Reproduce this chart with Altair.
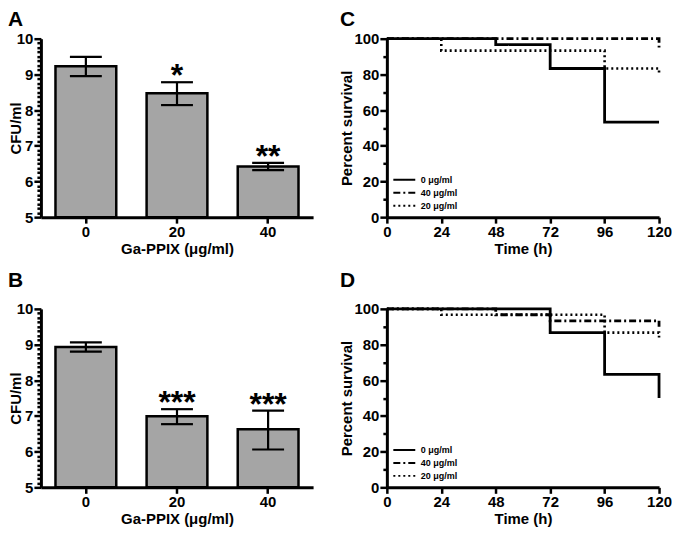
import altair as alt
import pandas as pd

FONT = "Liberation Sans"

# ---------------- data ----------------
doses = ["0", "20", "40"]
cfu_A = [9.23, 8.47, 6.42]
lo_A = [8.95, 8.14, 6.32]
hi_A = [9.49, 8.78, 6.52]
stars_A = ["", "*", "**"]

cfu_B = [8.93, 6.99, 6.63]
lo_B = [8.80, 6.77, 6.06]
hi_B = [9.06, 7.19, 7.15]
stars_B = ["", "***", "***"]

y_bar_min, y_bar_max = 5, 10
x_bar_title = "Ga-PPIX (μg/ml)"
y_bar_title = "CFU/ml"

groups = ["0 μg/ml", "40 μg/ml", "20 μg/ml"]

# panel C
c_t_0 = [0, 48, 72, 96, 120]
c_s_0 = [100, 96.7, 83.3, 53.3, 53.3]
c_t_40 = [0, 120, 120]
c_s_40 = [100, 100, 95]
c_t_20 = [0, 24, 96, 120, 120]
c_s_20 = [100, 93.3, 83.3, 83.3, 81]

# panel D
d_t_0 = [0, 72, 96, 120, 120]
d_s_0 = [100, 86.7, 63.3, 63.3, 50]
d_t_40 = [0, 48, 72, 120, 120]
d_s_40 = [100, 96.7, 93.3, 93.3, 90]
d_t_20 = [0, 24, 96, 120, 120]
d_s_20 = [100, 96.7, 86.7, 86.7, 84]

time_ticks = [0, 24, 48, 72, 96, 120]
surv_ticks = [0, 10, 20, 30, 40, 50, 60, 70, 80, 90, 100]
bar_ticks = [5 + i * 0.125 for i in range(41)]

BAR_GRAY = "#a5a5a5"
W_BAR, W_SURV, H = 273, 273, 179


def letter_layer(letter, dx, dy):
    return alt.Chart(pd.DataFrame({"label": [letter]})).mark_text(
        font=FONT, fontSize=21, fontWeight="bold", align="left", baseline="top",
        color="black").encode(text="label:N", x=alt.value(dx), y=alt.value(dy))


def bar_panel(letter, vals, lo, hi, stars, letter_dy):
    df = pd.DataFrame({"dose": doses, "cfu": vals, "lo": lo, "hi": hi,
                       "stars": stars, "base": [y_bar_min] * len(doses)})
    base = alt.Chart(df)
    x = alt.X("dose:N", sort=doses, title=x_bar_title,
              scale=alt.Scale(paddingInner=0.333, paddingOuter=0.16),
              axis=alt.Axis(labelAngle=0, tickSize=6, labelPadding=1, titlePadding=2))
    yax = alt.Axis(values=bar_ticks, labelOverlap=False, labelFlush=False,
                   labelExpr="abs(datum.value - round(datum.value)) < 0.001 ? format(datum.value, 'd') : ''",
                   tickSize={"condition": {"test": "abs(datum.value - round(datum.value)) > 0.001", "value": 4}, "value": 7},
                   labelPadding=1, titlePadding=-7)
    ysc = alt.Scale(domain=[y_bar_min, y_bar_max], zero=False, nice=False)

    def Y(f):
        return alt.Y(f, type="quantitative", scale=ysc, axis=yax, title=y_bar_title)

    bars = base.mark_bar(fill=BAR_GRAY, stroke="black", strokeWidth=2.5).encode(
        x=x, y=Y("cfu"), y2="base")
    rule = base.mark_rule(color="black", strokeWidth=2.2).encode(x=x, y=Y("lo"), y2="hi")
    cap_lo = base.mark_tick(color="black", size=32, thickness=2.2, opacity=1).encode(x=x, y=Y("lo"))
    cap_hi = base.mark_tick(color="black", size=32, thickness=2.2, opacity=1).encode(x=x, y=Y("hi"))
    txt = base.mark_text(font=FONT, fontSize=32, fontWeight="bold", baseline="alphabetic",
                         dy=4, color="black").encode(x=x, y=Y("hi"), text="stars:N")
    return alt.layer(bars, rule, cap_lo, cap_hi, txt, letter_layer(letter, -33, letter_dy)).properties(
        width=W_BAR, height=H)


def surv_panel(letter, series, letter_dy):
    dash_scale = alt.Scale(domain=groups, range=[[1, 0], [7, 3, 2, 3], [2, 3]])
    legend = alt.Legend(title=None, orient="none", legendX=11, legendY=H - 44,
                        symbolType="M-2,0H2", symbolSize=121, symbolStrokeWidth=2,
                        symbolStrokeColor="black", symbolFillColor="transparent",
                        labelFont=FONT, labelFontSize=9, labelFontWeight="bold",
                        labelColor="black", labelOffset=10, rowPadding=1, padding=0)
    widths = {groups[0]: 2.8, groups[1]: 2.8, groups[2]: 2.6}
    layers = []
    for g in [groups[2], groups[1], groups[0]]:
        t, s = series[g]
        df = pd.DataFrame({"t": t, "s": s, "group": [g] * len(t), "i": list(range(len(t)))})
        layers.append(alt.Chart(df).mark_line(interpolate="step-after", color="black",
                                              strokeWidth=widths[g]).encode(
            x=alt.X("t:Q", title="Time (h)", scale=alt.Scale(domain=[0, 120], nice=False),
                    axis=alt.Axis(values=time_ticks, tickSize=6, labelPadding=1,
                                  labelFlush=False, titlePadding=2)),
            y=alt.Y("s:Q", title="Percent survival", scale=alt.Scale(domain=[0, 100], nice=False),
                    axis=alt.Axis(values=surv_ticks, labelFlush=False, labelOverlap=False,
                                  labelExpr="datum.value % 20 === 0 ? datum.label : ''",
                                  tickSize={"condition": {"test": "datum.value % 20 !== 0", "value": 4}, "value": 7},
                                  labelPadding=1, titlePadding=-1)),
            strokeDash=alt.StrokeDash("group:N", scale=dash_scale, legend=legend),
            order="i:Q",
        ))
    layers.append(letter_layer(letter, -47, letter_dy))
    return alt.layer(*layers).properties(width=W_SURV, height=H)


A = bar_panel("A", cfu_A, lo_A, hi_A, stars_A, -30)
B = bar_panel("B", cfu_B, lo_B, hi_B, stars_B, -39)
C = surv_panel("C", {groups[0]: (c_t_0, c_s_0), groups[1]: (c_t_40, c_s_40), groups[2]: (c_t_20, c_s_20)}, -30)
D = surv_panel("D", {groups[0]: (d_t_0, d_s_0), groups[1]: (d_t_40, d_s_40), groups[2]: (d_t_20, d_s_20)}, -39)

row1 = alt.hconcat(A, C, spacing=26).resolve_scale(strokeDash="independent").resolve_legend(strokeDash="independent")
row2 = alt.hconcat(B, D, spacing=26).resolve_scale(strokeDash="independent").resolve_legend(strokeDash="independent")

chart = alt.vconcat(row1, row2, spacing=14).resolve_scale(strokeDash="independent").resolve_legend(
    strokeDash="independent").properties(
    padding={"left": 0, "top": 0, "right": 0, "bottom": 0}, background="white").configure_view(
    stroke=None).configure_axis(
    domainColor="black", domainWidth=3, tickColor="black", tickWidth=2.5,
    labelFont=FONT, labelFontSize=15, labelFontWeight="bold", labelColor="black",
    titleFont=FONT, titleFontSize=15, titleFontWeight="bold", titleColor="black", grid=False)

chart.save("out.html", embed_options={"renderer": "svg", "actions": False})
